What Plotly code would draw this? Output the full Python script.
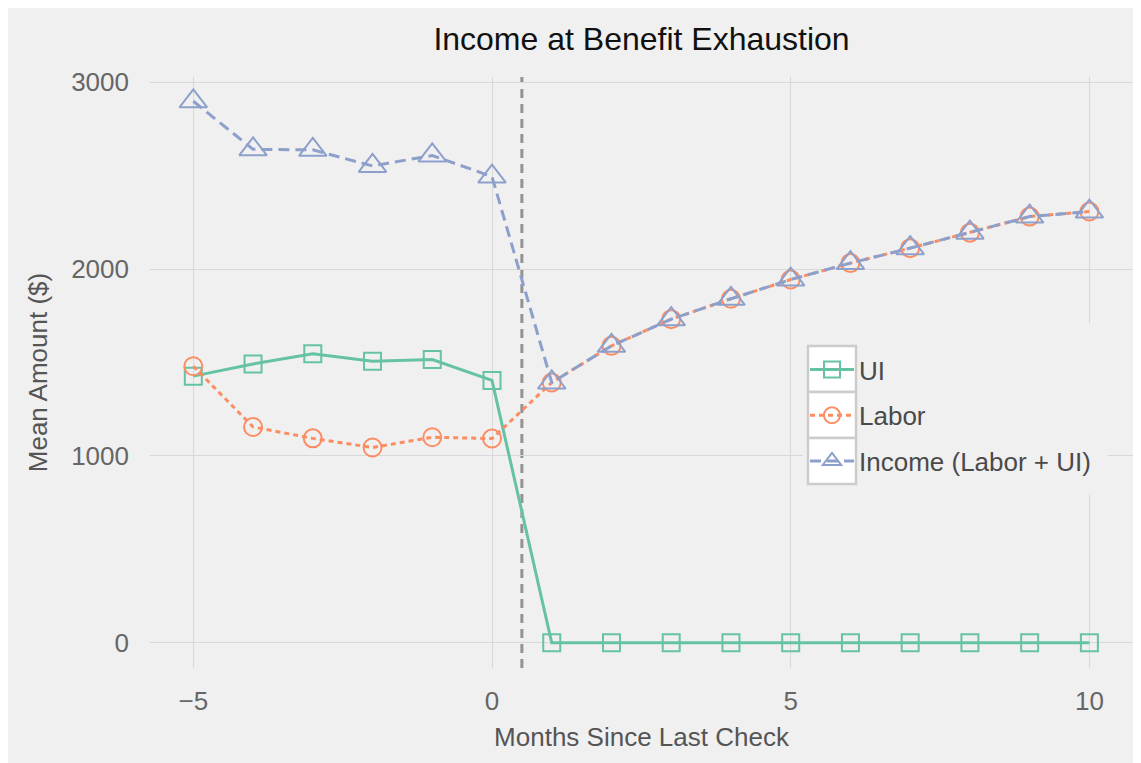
import plotly.graph_objects as go

months = [-5, -4, -3, -2, -1, 0, 1, 2, 3, 4, 5, 6, 7, 8, 9, 10]
ui = [1427, 1492, 1547, 1507, 1516, 1404, 0, 0, 0, 0, 0, 0, 0, 0, 0, 0]
labor = [1480, 1155, 1094, 1045, 1100, 1093, 1393, 1589, 1732, 1841, 1944, 2032, 2112, 2195, 2281, 2308]
income = [2898, 2641, 2638, 2552, 2608, 2495, 1393, 1589, 1732, 1841, 1944, 2032, 2112, 2195, 2281, 2308]
names = ["UI", "Labor", "Income (Labor + UI)"]
exhaust_x = 0.5

FONT = "Liberation Sans, Arial, Helvetica, sans-serif"
BG = "#f0f0f0"
OFF = 8  # page body margin
W, H = 1141, 763
# plot area in window pixels
PX0, PX1, PY0, PY1 = 150, 1133, 77, 668
L, R, T, B = PX0 - OFF, W - (PX1 - OFF), PY0 - OFF, H - (PY1 - OFF)
PW, PH = PX1 - PX0, PY1 - PY0

def px_x(p):
    return (p - PX0) / PW

def px_y(p):
    return (PY1 - p) / PH

fig = go.Figure()
fig.add_trace(go.Scatter(
    x=months, y=ui, name=names[0], mode="lines+markers", legendgroup="a",
    line=dict(color="#66c2a5", width=3),
    marker=dict(symbol="square-open", size=17, color="#66c2a5", line=dict(width=2, color="#66c2a5")),
))
fig.add_trace(go.Scatter(
    x=months, y=labor, name=names[1], mode="lines+markers", legendgroup="b",
    line=dict(color="#fc8d62", width=3, dash="5px,4px"),
    marker=dict(symbol="circle-open", size=18, color="#fc8d62", line=dict(width=2, color="#fc8d62")),
))
fig.add_trace(go.Scatter(
    x=months, y=income, name=names[2], mode="lines+markers", legendgroup="c",
    line=dict(color="#8da0cb", width=3, dash="11px,6px"),
    marker=dict(symbol="triangle-up-open", size=24, color="#8da0cb", line=dict(width=2, color="#8da0cb")),
))

shapes = []
# exhaustion line
shapes.append(dict(type="line", xref="x", yref="paper", x0=exhaust_x, x1=exhaust_x, y0=0, y1=1,
                   line=dict(color="#939393", width=3, dash="9px,6px"), layer="below"))
# legend pane (hides gridlines)
shapes.append(dict(type="rect", xref="paper", yref="paper", x0=px_x(803), x1=px_x(1108), y0=px_y(495), y1=px_y(323),
                   fillcolor=BG, line=dict(width=0), layer="above"))
# legend symbol boxes
for top, bot in [(346, 392), (392, 438), (438, 484)]:
    shapes.append(dict(type="rect", xref="paper", yref="paper", x0=px_x(808), x1=px_x(856), y0=px_y(bot), y1=px_y(top),
                       fillcolor="white", line=dict(width=2.5, color="#cccccc"), layer="above"))

fig.update_layout(
    width=W, height=H,
    margin=dict(l=L, r=R, t=T, b=B, pad=0),
    paper_bgcolor=BG, plot_bgcolor=BG,
    font=dict(family=FONT, size=26, color="#555555"),
    title=dict(text="Income at Benefit Exhaustion", x=(641.5 - OFF) / W, xanchor="center",
               y=1 - (39 - OFF) / H, yanchor="middle", font=dict(size=32, color="#111111")),
    shapes=shapes,
    showlegend=True,
    legend=dict(x=px_x(805), xanchor="left", y=px_y(346), yanchor="top", bgcolor="rgba(0,0,0,0)",
                borderwidth=0, tracegroupgap=9, font=dict(size=26, color="#4a4a4a"), itemwidth=44),
)
fig.update_xaxes(
    range=[-5.725, 10.73], tick0=-5, dtick=5, showgrid=True, gridcolor="#d8d8d8", gridwidth=1.3,
    zeroline=False, showline=False, ticks="", ticklabelstandoff=15,
    tickfont=dict(size=26, color="#666666"),
    title=dict(text="Months Since Last Check", standoff=12, font=dict(size=26, color="#555555")),
)
fig.update_yaxes(
    range=[-135, 3028], tick0=0, dtick=1000, showgrid=True, gridcolor="#d8d8d8", gridwidth=1.3,
    zeroline=False, showline=False, ticks="", ticklabelstandoff=20,
    tickfont=dict(size=26, color="#666666"),
    title=dict(text="Mean Amount ($)", standoff=16, font=dict(size=26, color="#555555")),
)
fig.write_html("out.html")
